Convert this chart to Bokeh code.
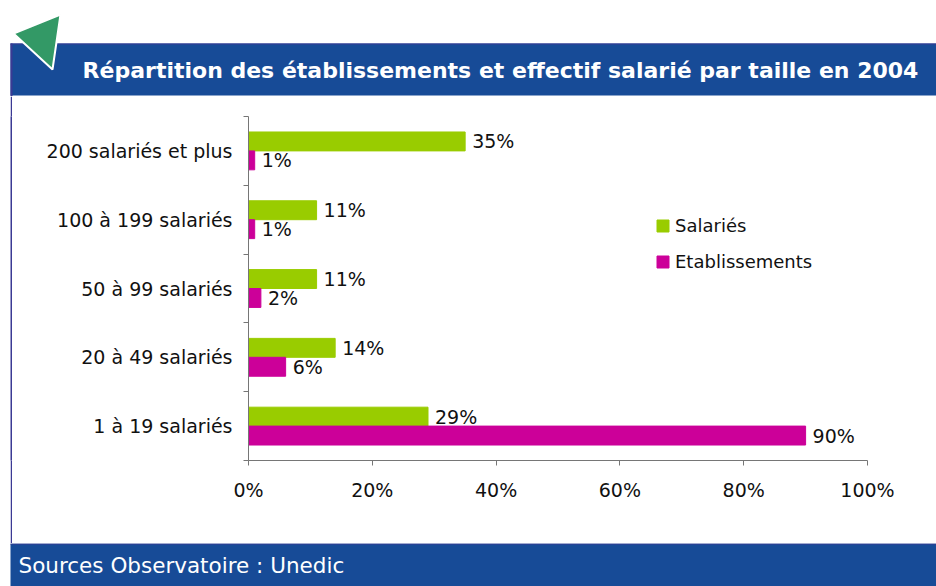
from bokeh.plotting import figure
from bokeh.layouts import column, row, Spacer
from bokeh.models import (ColumnDataSource, FixedTicker, Range1d, Legend, LegendItem)
from bokeh.core.properties import value
from bokeh.embed import file_html
from bokeh.resources import INLINE

# ---- data ----
categories = ["200 salariés et plus", "100 à 199 salariés", "50 à 99 salariés",
              "20 à 49 salariés", "1 à 19 salariés"]
salaries = [35, 11, 11, 14, 29]
etablissements = [1, 1, 2, 6, 90]
x_ticks = [0, 20, 40, 60, 80, 100]
x_tick_labels = ["0%", "20%", "40%", "60%", "80%", "100%"]
series_names = ["Salariés", "Etablissements"]
title_text = "Répartition des établissements et effectif salarié par taille en 2004"
source_text = "Sources Observatoire : Unedic"

GREEN = "#99CC00"
MAGENTA = "#CC0099"
BLUE = "#174B97"
EDGE = "#3B3A94"
TRI = "#339966"
TXT = "#111111"
AX = "#767676"
FONT = "DejaVu Sans"
W = 936


def blank(width, height, xr, yr, fill="white"):
    f = figure(width=width, height=height, output_backend="svg", toolbar_location=None,
               x_range=Range1d(*xr), y_range=Range1d(*yr),
               x_axis_type=None, y_axis_type=None, min_border=0)
    f.outline_line_color = None
    f.grid.visible = False
    f.background_fill_color = fill
    f.border_fill_color = fill
    return f


# ---- header: title bar + triangle ----
HH = 96
head = blank(W, HH, (0, W), (HH, 0))
head.quad(left=[10], right=[W], top=[43], bottom=[95], fill_color=BLUE, line_color=None)
head.segment(x0=[10], y0=[43.5], x1=[W], y1=[43.5], line_color=EDGE, line_width=1)
head.segment(x0=[11], y0=[43], x1=[11], y1=[96], line_color=EDGE, line_width=2)
head.patch(x=[13, 60, 52], y=[33, 14, 69], fill_color=TRI, line_color="white",
           line_width=2)
head.text(x=[500], y=[70], text=[title_text], text_align="center",
          text_baseline="middle", text_font=value(FONT), text_font_size="22px",
          text_font_style="bold", text_color="white")

# ---- chart ----
CH = 447
n = len(categories)
centers = [n - 1 - i + 0.5 for i in range(n)]
off = 0.1375
bh = 0.275

src_s = ColumnDataSource(dict(y=[c + off for c in centers], v=salaries,
                              t=[f"{v}%" for v in salaries]))
src_e = ColumnDataSource(dict(y=[c - off for c in centers], v=etablissements,
                              t=[f"{v}%" for v in etablissements]))

p = figure(width=W - 12, height=CH, output_backend="svg", toolbar_location=None,
           x_range=Range1d(0, 100), y_range=Range1d(0, n),
           min_border_left=236, min_border_right=69, min_border_top=20,
           min_border_bottom=83)
p.outline_line_color = None
p.grid.visible = False
p.background_fill_color = "white"
p.border_fill_color = "white"

r_s = p.hbar(y="y", right="v", left=0, height=bh, source=src_s, color=GREEN)
r_e = p.hbar(y="y", right="v", left=0, height=bh, source=src_e, color=MAGENTA)

for src in (src_s, src_e):
    p.text(x="v", y="y", text="t", source=src, x_offset=7, text_baseline="middle",
           text_align="left", text_font=value(FONT), text_font_size="19px",
           text_color=TXT)

xa = p.xaxis[0]
xa.ticker = FixedTicker(ticks=x_ticks)
xa.major_label_overrides = {t: l for t, l in zip(x_ticks, x_tick_labels)}
xa.major_label_text_font = FONT
xa.major_label_text_font_size = "19px"
xa.major_label_text_color = TXT
xa.axis_line_color = AX
xa.major_tick_line_color = AX
xa.major_tick_in = 0
xa.major_tick_out = 5
xa.minor_tick_line_color = None
xa.major_label_standoff = 13

ya = p.yaxis[0]
ya.ticker = FixedTicker(ticks=centers, minor_ticks=list(range(n + 1)))
ya.major_label_overrides = {c: cat for c, cat in zip(centers, categories)}
ya.major_label_text_font = FONT
ya.major_label_text_font_size = "19px"
ya.major_label_text_color = TXT
ya.axis_line_color = AX
ya.major_tick_line_color = None
ya.major_tick_in = 0
ya.major_tick_out = 0
ya.minor_tick_line_color = AX
ya.minor_tick_in = 0
ya.minor_tick_out = 5
ya.major_label_standoff = 11

legend = Legend(items=[LegendItem(label=series_names[0], renderers=[r_s]),
                       LegendItem(label=series_names[1], renderers=[r_e])],
                location=(407, 188), orientation="vertical",
                glyph_width=15, glyph_height=15, label_height=15,
                label_text_font=FONT, label_text_font_size="18px",
                label_text_color=TXT, spacing=15, padding=0, margin=0,
                border_line_color=None, background_fill_alpha=0,
                label_standoff=5)
p.add_layout(legend, "center")

# left border line of the frame (a 2px-wide canvas filled with the edge colour)
edge = blank(2, CH, (0, 1), (0, 1), fill=EDGE)

# ---- footer ----
FH = 43
foot = blank(W, FH, (0, W), (FH, 0))
foot.quad(left=[10], right=[W], top=[0], bottom=[FH], fill_color=BLUE, line_color=None)
foot.segment(x0=[10], y0=[0.5], x1=[W], y1=[0.5], line_color=EDGE, line_width=1)
foot.text(x=[18], y=[22], text=[source_text], text_align="left",
          text_baseline="middle", text_font=value(FONT), text_font_size="21.5px",
          text_color="white")

layout = column(head, row(Spacer(width=10, height=CH), edge, p, spacing=0), foot,
                spacing=0)
open("out.html", "w").write(file_html(layout, INLINE))
